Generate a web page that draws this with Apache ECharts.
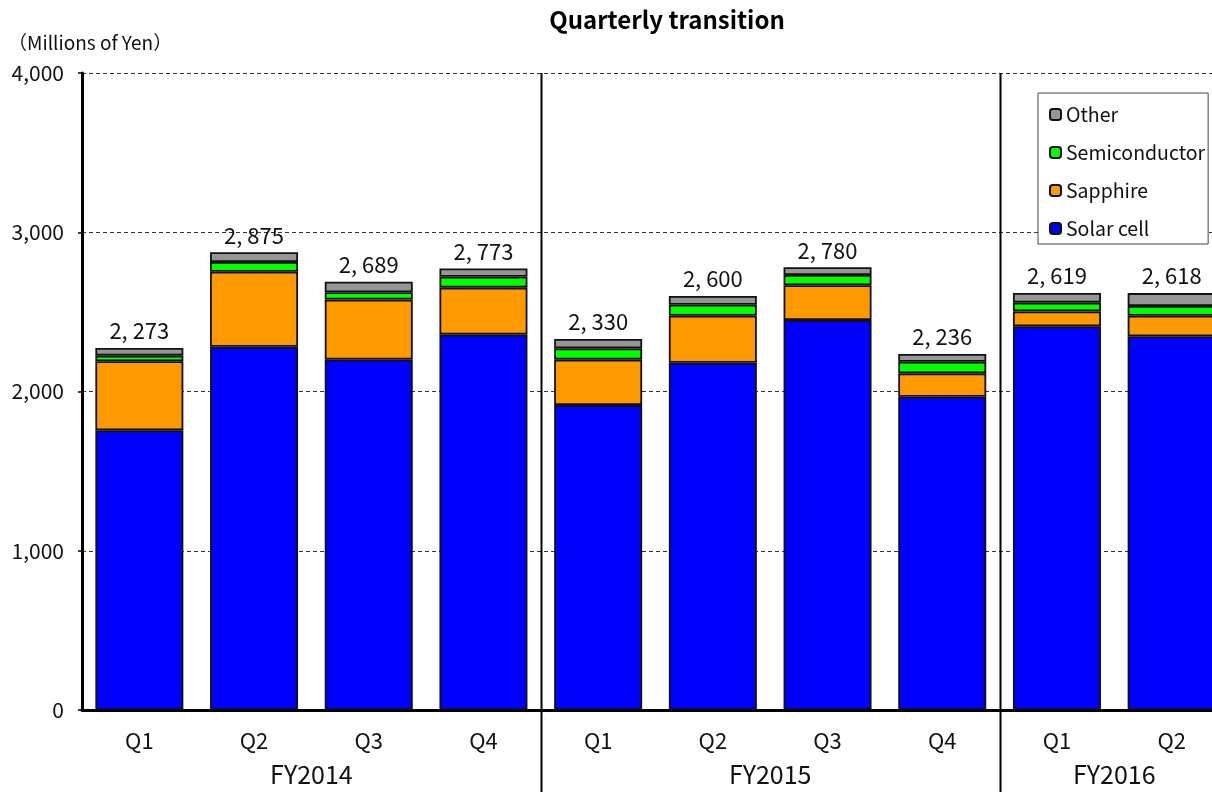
<!DOCTYPE html>
<html>
<head>
<meta charset="utf-8">
<script src="https://cdn.jsdelivr.net/npm/echarts@6/dist/echarts.min.js"></script>
<style>
html,body{margin:0;padding:0;background:#fff;}
#main{width:1212px;height:792px;}
</style>
</head>
<body>
<div id="main"></div>
<script>
// 四半期データ
var quarters = ['Q1', 'Q2', 'Q3', 'Q4', 'Q1', 'Q2', 'Q3', 'Q4', 'Q1', 'Q2'];
var fyNames = ['FY2014', 'FY2015', 'FY2016'];
var fyFirst = [0, 4, 8];
var fyLast = [3, 7, 9];
var solarCell = [1756, 2281, 2200, 2357, 1915, 2181, 2449, 1967, 2409, 2347];
var sapphire = [434, 471, 377, 295, 285, 295, 218, 147, 94, 129];
var semiconductor = [35, 61, 46, 69, 71, 69, 65, 73, 55, 61];
var other = [48, 62, 66, 52, 59, 55, 48, 49, 61, 81];
var totals = [2273, 2875, 2689, 2773, 2330, 2600, 2780, 2236, 2619, 2618];
var yTicks = [0, 1000, 2000, 3000, 4000];

var chart = echarts.init(document.getElementById('main'));
var jpFont = '"Noto Sans CJK JP", "DejaVu Sans", sans-serif';

/* ---------------------------------------------函数--------------------------------------------- */
function fmtTotal(v){
	var s = String(v);
	return s.length > 3 ? s.slice(0, s.length - 3) + ', ' + s.slice(-3) : s;
}

function barSeries(name, data, color){
	return {
		name : name,
		type : 'bar',
		stack : 'all',
		barWidth : 88,
		data : data,
		itemStyle : {
			color : color,
			borderColor : '#111',
			borderWidth : 1.8
		}
	};
}

var series = [
	barSeries('Solar cell', solarCell, '#0000ff'),
	barSeries('Sapphire', sapphire, '#ff9900'),
	barSeries('Semiconductor', semiconductor, '#00ff00'),
	barSeries('Other', other, '#969696')
];
// 合計ラベル
series[3].label = {
	show : true,
	position : 'top',
	distance : 6,
	color : '#111',
	fontSize : 22,
	fontFamily : jpFont,
	formatter : function(p){ return fmtTotal(totals[p.dataIndex]); }
};

var option = {
	animation : false,
	backgroundColor : '#fff',
	grid : {
		left : 82,
		top : 73,
		bottom : 82,
		width : 1147,
		containLabel : false,
		outerBoundsMode : 'none'
	},
	legend : {
		orient : 'vertical',
		left : 1038,
		top : 93,
		padding : [11, 3, 5, 11],
		itemGap : 17,
		itemWidth : 11,
		itemHeight : 11,
		backgroundColor : '#fff',
		borderColor : '#444',
		borderWidth : 1,
		data : ['Other', 'Semiconductor', 'Sapphire', 'Solar cell'],
		textStyle : {
			fontSize : 19.5,
			lineHeight : 21,
			color : '#111',
			fontFamily : jpFont
		}
	},
	xAxis : {
		type : 'category',
		data : quarters,
		axisLine : { lineStyle : { color : '#000', width : 3 } },
		axisTick : { inside : true, length : 6, lineStyle : { color : '#000', width : 1.5 } },
		axisLabel : { margin : 20, fontSize : 22, color : '#111', fontFamily : jpFont }
	},
	yAxis : {
		type : 'value',
		min : yTicks[0],
		max : yTicks[yTicks.length - 1],
		interval : 1000,
		axisLine : { show : true, lineStyle : { color : '#000', width : 3 } },
		axisTick : { show : true, length : 4, lineStyle : { color : '#000', width : 1.5 } },
		axisLabel : {
			margin : 18,
			fontSize : 21,
			color : '#111',
			fontFamily : jpFont,
			formatter : function(v){ return v.toLocaleString('en-US'); }
		},
		splitLine : { show : true, lineStyle : { color : '#333', type : [4, 3], width : 1 } }
	},
	series : series
};
chart.setOption(option);

// 年度区切り線とラベル
var graphics = [];
var y0 = chart.convertToPixel({ yAxisIndex : 0 }, yTicks[yTicks.length - 1]);
for(var i = 0; i < fyNames.length; i++){
	var a = chart.convertToPixel({ xAxisIndex : 0 }, fyFirst[i]);
	var b = chart.convertToPixel({ xAxisIndex : 0 }, fyLast[i]);
	graphics.push({
		type : 'text',
		x : (a + b) / 2,
		y : 774,
		style : { text : fyNames[i], fontSize : 25, fill : '#111', fontFamily : jpFont, textAlign : 'center', textVerticalAlign : 'middle' }
	});
	if(i > 0){
		var prev = chart.convertToPixel({ xAxisIndex : 0 }, fyFirst[i] - 1);
		var sx = Math.round((prev + a) / 2) + 0.5;
		graphics.push({
			type : 'line',
			shape : { x1 : sx, y1 : y0, x2 : sx, y2 : 792 },
			style : { stroke : '#000', lineWidth : 2 }
		});
	}
}
// タイトル
graphics.push({
	type : 'text', x : 667, y : 20,
	style : { text : 'Quarterly transition', fontSize : 24, fontWeight : 'bold', fill : '#000', fontFamily : jpFont, textAlign : 'center', textVerticalAlign : 'middle' }
});
graphics.push({
	type : 'text', x : 8, y : 43,
	style : { text : '（Millions of Yen）', fontSize : 19, fill : '#111', fontFamily : jpFont, textAlign : 'left', textVerticalAlign : 'middle' }
});
chart.setOption({ graphic : graphics });
</script>
</body>
</html>
